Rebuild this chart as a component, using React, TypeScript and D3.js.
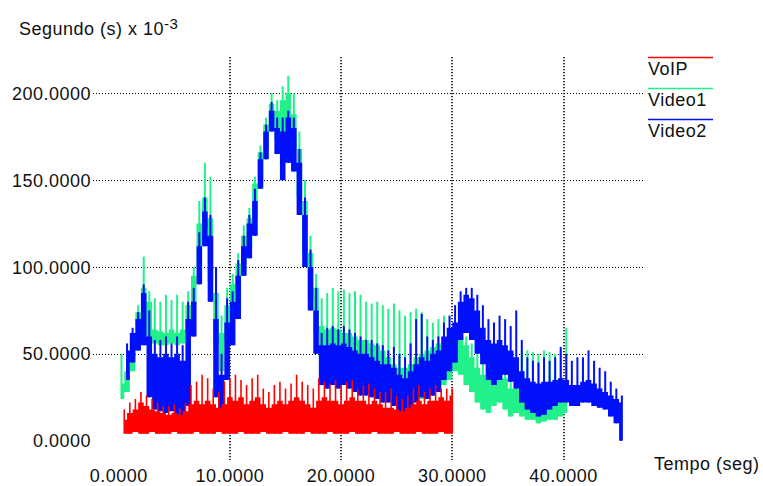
import React, { useRef, useEffect } from 'react';
import * as d3 from 'd3';

// sample spacing of the series (seconds)
const STEP = 0.5;

// VoIP (red), delay in ms, from t = 0.5 s
const voipStart = 0.5;
const voipLow = [4, 4, 5, 4, 4, 5, 4, 4, 4, 5, 4, 4, 4, 5, 4, 4, 4, 5, 4, 4,
  4, 5, 4, 4, 4, 5, 4, 4, 4, 5, 4, 4, 4, 5, 4, 4, 4, 5, 4, 4,
  4, 5, 4, 4, 4, 5, 4, 4, 4, 5, 4, 4, 4, 5, 4, 4, 4, 5, 4, 4];
const voipHigh = [12, 16, 18, 22, 20, 18, 17, 16, 15, 16, 15, 17, 21, 23, 21, 23, 21, 19, 21, 25,
  23, 25, 21, 23, 25, 21, 19, 21, 23, 21, 23, 25, 23, 21, 19, 23, 25, 23, 23, 21,
  23, 25, 23, 23, 21, 23, 21, 19, 19, 18, 17, 19, 21, 23, 21, 23, 23, 25, 23, 26];
const voipPeak = [18, 22, 24, 28, 26, 24, 22, 20, 20, 21, 19, 22, 32, 34, 38, 36, 30, 28, 34, 36,
  38, 35, 32, 36, 38, 30, 28, 32, 34, 30, 33, 38, 34, 32, 30, 36, 34, 33, 35, 32,
  34, 35, 30, 32, 33, 30, 28, 28, 30, 26, 24, 26, 30, 32, 28, 30, 32, 30, 30, 30];

// Video1 (green), from t = 0.25 s
const video1Start = 0.25;
const video1Low = [24, 28, 40, 52, 58, 58, 56, 55, 55, 56, 55, 56, 62, 78, 100, 122, 92, 55, 40, 58,
  70, 85, 102, 112, 128, 150, 168, 180, 174, 170, 176, 168, 140, 108, 82, 62, 48, 46, 45, 44,
  42, 42, 40, 38, 36, 34, 32, 28, 24, 20, 18, 18, 20, 22, 24, 26, 26, 30, 32, 35,
  40, 38, 32, 28, 22, 18, 16, 20, 22, 18, 14, 16, 14, 12, 12, 10, 11, 12, 12, 14, 16];
const video1High = [33, 40, 58, 74, 88, 80, 64, 63, 62, 64, 62, 64, 78, 95, 125, 140, 128, 85, 62, 78,
  90, 102, 118, 128, 148, 166, 182, 194, 190, 196, 200, 188, 168, 138, 108, 88, 66, 64, 65, 64,
  62, 62, 60, 58, 58, 56, 55, 52, 48, 44, 42, 42, 44, 48, 50, 52, 54, 56, 55, 52,
  58, 60, 55, 48, 42, 38, 35, 40, 42, 36, 30, 30, 28, 25, 24, 22, 23, 25, 26, 28, 30];
const video1Peak = [50, 46, 62, 78, 106, 86, 82, 80, 84, 81, 84, 80, 86, 100, 138, 160, 152, 98, 72, 88,
  96, 108, 124, 134, 152, 170, 186, 200, 196, 204, 210, 200, 178, 150, 118, 96, 82, 85, 88, 86,
  87, 85, 86, 84, 80, 79, 80, 78, 76, 79, 75, 72, 74, 76, 74, 70, 68, 70, 72, 62,
  64, 64, 60, 56, 50, 45, 42, 45, 48, 44, 42, 45, 52, 52, 51, 50, 52, 51, 50, 52, 65];

// Video2 (blue), from t = 0.75 s
const video2Start = 0.75;
const video2Low = [35, 45, 52, 55, 25, 18, 17, 16, 17, 15, 13, 20, 60, 90, 112, 80, 25, 14, 35, 55,
  70, 95, 105, 118, 145, 162, 178, 165, 150, 160, 155, 130, 100, 75, 50, 32, 30, 32, 30, 32,
  30, 28, 26, 26, 25, 24, 22, 22, 20, 16, 15, 18, 22, 25, 24, 26, 28, 35, 40, 45,
  58, 62, 58, 50, 44, 35, 32, 35, 38, 34, 30, 22, 18, 16, 14, 15, 18, 20, 22, 22,
  20, 20, 22, 22, 20, 19, 18, 14, 10, 0];
const video2High = [52, 62, 70, 85, 60, 50, 48, 50, 48, 50, 46, 70, 80, 112, 132, 118, 70, 38, 68, 80,
  95, 112, 125, 138, 162, 178, 190, 180, 178, 186, 180, 160, 130, 100, 75, 55, 55, 56, 55, 56,
  54, 52, 50, 50, 48, 46, 44, 44, 42, 38, 36, 40, 44, 48, 46, 50, 52, 60, 65, 68,
  80, 84, 82, 75, 65, 58, 56, 58, 55, 52, 48, 40, 36, 34, 33, 34, 34, 35, 36, 35,
  32, 32, 34, 35, 33, 30, 28, 26, 24, 22];
const video2Peak = [56, 65, 74, 90, 75, 58, 58, 60, 56, 60, 55, 80, 88, 120, 140, 130, 100, 50, 82, 86,
  104, 118, 130, 145, 166, 182, 195, 186, 186, 190, 186, 168, 140, 110, 88, 62, 65, 66, 64, 66,
  64, 62, 60, 58, 58, 56, 55, 52, 54, 50, 48, 56, 70, 73, 60, 58, 60, 68, 72, 78,
  86, 88, 88, 84, 78, 70, 68, 72, 70, 66, 75, 58, 48, 46, 45, 48, 46, 48, 54, 50,
  46, 48, 48, 52, 46, 42, 40, 34, 30, 26];

const seriesNames = ['VoIP', 'Video1', 'Video2'];
const seriesColors = ['#ff0000', '#22f08a', '#0010f8'];

const xTicks = [0, 10, 20, 30, 40];
const yGrid = [50, 100, 150, 200];
const yTicks = [0, 50, 100, 150, 200];

const FONT = '"Liberation Sans", Arial, sans-serif';

function Chart() {
  const chartRef = useRef(null);

  useEffect(() => {
    const svg = d3.select(chartRef.current);
    svg.selectAll('*').remove();

    const xScale = d3.scaleLinear().domain([0, 10]).range([118.7, 229.9]);
    const yScale = d3.scaleLinear().domain([0, 200]).range([440.7, 93.3]);

    // dotted grid
    svg
      .append('g')
      .selectAll('line')
      .data(yGrid)
      .enter()
      .append('line')
      .attr('x1', 93)
      .attr('x2', 645)
      .attr('y1', (d) => Math.round(yScale(d)) + 0.5)
      .attr('y2', (d) => Math.round(yScale(d)) + 0.5)
      .attr('stroke', '#000')
      .attr('stroke-dasharray', '1,2');

    svg
      .append('g')
      .selectAll('line')
      .data(xTicks.slice(1))
      .enter()
      .append('line')
      .attr('x1', (d) => Math.round(xScale(d)))
      .attr('x2', (d) => Math.round(xScale(d)))
      .attr('y1', 57)
      .attr('y2', 460)
      .attr('stroke', '#000')
      .attr('stroke-width', 1.6)
      .attr('stroke-dasharray', '1.2,1.8');

    const series = [
      { start: video1Start, low: video1Low, high: video1High, peak: video1Peak, color: seriesColors[1], w: 2 },
      { start: video2Start, low: video2Low, high: video2High, peak: video2Peak, color: seriesColors[2], w: 2 },
      { start: voipStart, low: voipLow, high: voipHigh, peak: voipPeak, color: seriesColors[0], w: 1.6 },
    ];

    series.forEach((s) => {
      const tx = (i) => xScale(s.start + i * STEP);
      const area = d3
        .area()
        .curve(d3.curveStep)
        .x((_, i) => tx(i))
        .y0((_, i) => yScale(s.low[i]))
        .y1((_, i) => yScale(s.high[i]));

      const g = svg.append('g');
      g.append('path').attr('d', area(s.high)).attr('fill', s.color);

      // spikes, one per sample
      g.selectAll('line')
        .data(s.peak)
        .enter()
        .append('line')
        .attr('x1', (_, i) => tx(i))
        .attr('x2', (_, i) => tx(i))
        .attr('y1', (_, i) => yScale(s.low[i]))
        .attr('y2', (d) => yScale(d))
        .attr('stroke', s.color)
        .attr('stroke-width', s.w);
    });

    // tick labels
    svg
      .append('g')
      .selectAll('text')
      .data(yTicks)
      .enter()
      .append('text')
      .attr('x', 91)
      .attr('y', (d) => yScale(d) + 6.5)
      .attr('text-anchor', 'end')
      .text((d) => d3.format('.4f')(d));

    svg
      .append('g')
      .selectAll('text')
      .data(xTicks)
      .enter()
      .append('text')
      .attr('x', (d) => xScale(d))
      .attr('y', 482)
      .attr('text-anchor', 'middle')
      .text((d) => d3.format('.4f')(d));

    // axis titles
    const title = svg.append('text').attr('x', 19).attr('y', 35);
    title.append('tspan').text('Segundo (s) x 10');
    title
      .append('tspan')
      .attr('dx', 0)
      .attr('dy', -6)
      .attr('font-size', 15)
      .text('-3');

    svg.append('text').attr('x', 654).attr('y', 470).text('Tempo (seg)');

    // legend
    const legend = svg
      .append('g')
      .selectAll('g')
      .data(seriesNames)
      .enter()
      .append('g')
      .attr('transform', (_, i) => `translate(648,${57.5 + i * 31})`);
    legend
      .append('line')
      .attr('x1', 0)
      .attr('x2', 65)
      .attr('stroke', (_, i) => seriesColors[i])
      .attr('stroke-width', 1.6);
    legend
      .append('text')
      .attr('x', 0)
      .attr('y', 17.5)
      .text((d) => d);
  }, []);

  return (
    <svg
      ref={chartRef}
      width={763}
      height={486}
      style={{ position: 'absolute', left: 0, top: 0, background: '#fff' }}
      fontFamily={FONT}
      fontSize={18}
      fill="#111"
      letterSpacing={0.5}
    ></svg>
  );
}

export default function App() {
  return <Chart />;
}
